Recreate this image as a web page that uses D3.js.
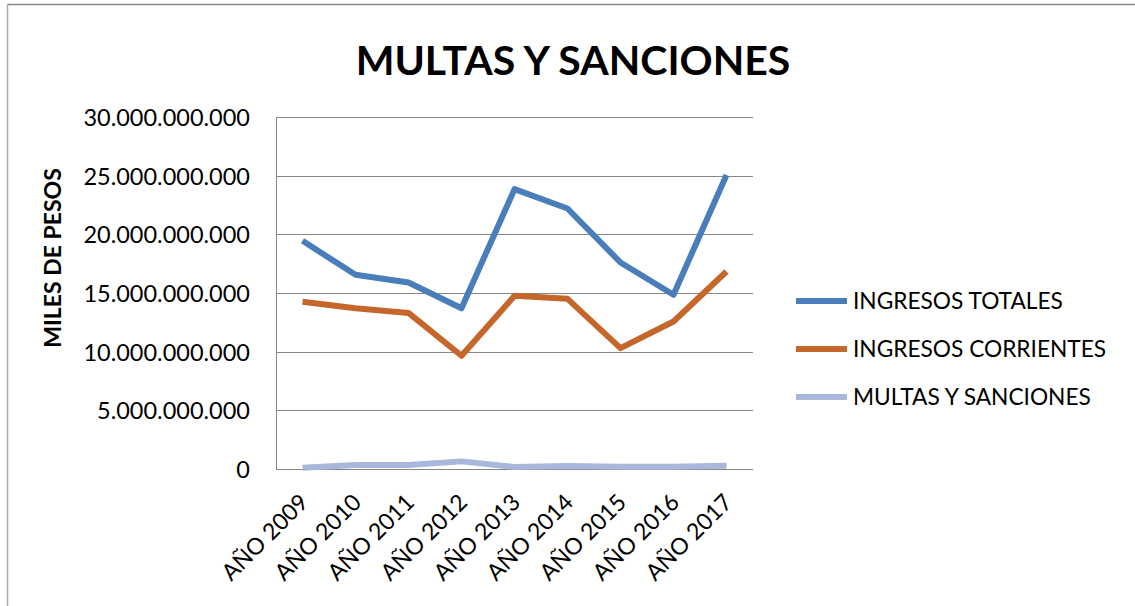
<!DOCTYPE html>
<html>
<head>
<meta charset="utf-8">
<script src="https://cdn.jsdelivr.net/npm/d3@7"></script>
<style>
  body { margin:0; background:#fff; }
  text { font-family: Lato, "Open Sans", sans-serif; fill:#000; }
</style>
</head>
<body>
<div id="chart"></div>
<script>
// data
var years = ["AÑO 2009","AÑO 2010","AÑO 2011","AÑO 2012","AÑO 2013","AÑO 2014","AÑO 2015","AÑO 2016","AÑO 2017"];
var ingresosTotales = [19.45e9,16.55e9,15.9e9,13.7e9,23.85e9,22.2e9,17.6e9,14.85e9,25.05e9];
var ingresosCorrientes = [14.25e9,13.7e9,13.3e9,9.65e9,14.76e9,14.5e9,10.3e9,12.57e9,16.83e9];
var multasSanciones = [0.1e9,0.34e9,0.34e9,0.65e9,0.17e9,0.25e9,0.2e9,0.2e9,0.28e9];
var yTicks = [0,5e9,10e9,15e9,20e9,25e9,30e9];
var seriesNames = ["INGRESOS TOTALES","INGRESOS CORRIENTES","MULTAS Y SANCIONES"];
var seriesColors = ["#4a7ebb","#c5662b","#a9b7dd"];

var W = 1135, H = 606;
var margin = { left:276, right:382, top:117, bottom:137 };
var width = W - margin.left - margin.right;
var height = H - margin.top - margin.bottom;

var svg = d3.select("#chart").append("svg")
    .attr("width", W)
    .attr("height", H);

// outer frame (only top and left edges visible)
svg.append("line").attr("x1",7.5).attr("x2",W).attr("y1",4.5).attr("y2",4.5)
    .attr("stroke","#888").attr("stroke-width",1.5);
svg.append("line").attr("x1",7.5).attr("x2",7.5).attr("y1",4.5).attr("y2",H)
    .attr("stroke","#aaa").attr("stroke-width",1.5);

var g = svg.append("g")
    .attr("transform","translate(" + margin.left + "," + margin.top + ")");

// scales
var x = d3.scalePoint().domain(years).range([0, width]).padding(0.5);
var y = d3.scaleLinear().domain([0, 30e9]).range([height, 0]);

var fmt = function(d){ return d3.format(",")(d).replace(/,/g, "."); };

// gridlines
g.selectAll(".grid").data(yTicks).enter().append("line")
    .attr("class","grid")
    .attr("x1",0).attr("x2",width)
    .attr("y1",function(d){ return Math.round(y(d)) + 0.5; })
    .attr("y2",function(d){ return Math.round(y(d)) + 0.5; })
    .attr("stroke","#868686").attr("stroke-width",1);

// y axis
var yAxis = g.append("g")
    .call(d3.axisLeft(y).tickValues(yTicks).tickFormat(fmt).tickSize(0).tickPadding(26));
yAxis.select(".domain").attr("stroke","#868686").attr("d","M0.5,0V" + height);
yAxis.selectAll("text").style("font-size","23.5px").attr("dy","0.36em");

// x axis
var xAxis = g.append("g")
    .attr("transform","translate(0," + height + ")")
    .call(d3.axisBottom(x).tickSize(0));
xAxis.select(".domain").remove();
xAxis.selectAll("text")
    .style("font-size","23px")
    .attr("text-anchor","end")
    .attr("dy","0.35em")
    .attr("transform","translate(1,29) rotate(-45)")
    .attr("x",0).attr("y",0);

// lines
var line = d3.line()
    .x(function(d,i){ return x(years[i]); })
    .y(function(d){ return y(d); });

var allSeries = [ingresosTotales, ingresosCorrientes, multasSanciones];
allSeries.forEach(function(s, i){
    g.append("path")
        .attr("d", line(s))
        .attr("fill","none")
        .attr("stroke", seriesColors[i])
        .attr("stroke-width", 6)
        .attr("stroke-linejoin","round");
});

// title
svg.append("text")
    .attr("x", 573).attr("y", 75)
    .attr("text-anchor","middle")
    .style("font-size","41px").style("font-weight","bold")
    .text("MULTAS Y SANCIONES");

// y axis title
svg.append("text")
    .attr("transform","translate(61,258) rotate(-90)")
    .attr("text-anchor","middle")
    .style("font-size","23px").style("font-weight","bold")
    .text("MILES DE PESOS");

// legend
var legend = svg.append("g").attr("transform","translate(796,301)");
seriesNames.forEach(function(n, i){
    var row = legend.append("g").attr("transform","translate(0," + (i*48) + ")");
    row.append("line").attr("x1",0).attr("x2",51).attr("y1",0).attr("y2",0)
        .attr("stroke", seriesColors[i]).attr("stroke-width",6);
    row.append("text").attr("x",57).attr("y",0).attr("dy","0.36em")
        .style("font-size","22.7px").text(n);
});
</script>
</body>
</html>
